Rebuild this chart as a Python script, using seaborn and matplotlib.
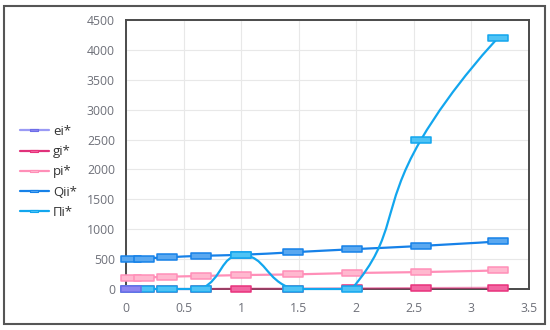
#!/usr/bin/env python3
# -*- coding: utf-8 -*-
"""Smoothed line chart with rectangle markers (ECharts look)."""

import numpy as np
import matplotlib
matplotlib.use('Agg')
import matplotlib.pyplot as plt
from matplotlib.path import Path
from matplotlib.patches import PathPatch, Rectangle
from matplotlib.lines import Line2D
import seaborn as sns

# data
x_vals = [0.04, 0.16, 0.36, 0.65, 1.0, 1.45, 1.96, 2.56, 3.23]
ei_x = [0.04]
ei = [0]
gi = [0, 0, 0, 0, 5, 5, 10, 15, 20]
pi = [178, 189, 205, 217, 233, 244, 267, 283, 311]
qii = [495, 510, 530, 555, 572, 615, 665, 720, 795]
PIi = [0, 0, 0, 0, 565, 0, 0, 2490, 4200]

x_ticks = [0, 0.5, 1, 1.5, 2, 2.5, 3, 3.5]
x_labels = ['0', '0.5', '1', '1.5', '2', '2.5', '3', '3.5']
y_ticks = [0, 500, 1000, 1500, 2000, 2500, 3000, 3500, 4000, 4500]

sns.set_theme(style='white')
plt.rcParams['font.family'] = ['Open Sans', 'DejaVu Sans']

W, H = 550, 330
fig = plt.figure(figsize=(W / 100, H / 100), dpi=100)
ax_l, ax_r, ax_t, ax_b = 126, 529, 20, 289
ax = fig.add_axes([ax_l / W, 1 - ax_b / H, (ax_r - ax_l) / W, (ax_b - ax_t) / H])
ax.set_xlim(0, 3.5)
ax.set_ylim(0, 4500)

kx = (ax_r - ax_l) / 3.5      # px per x unit
ky = (ax_b - ax_t) / 4500     # px per y unit


def smooth_path(xs, ys, smooth=0.5):
    """bezier path like echarts smooth line (bbox constraint)"""
    n = len(xs)
    xmin, xmax = min(xs), max(xs)
    ymin, ymax = min(ys), max(ys)
    cps = []
    for i in range(n):
        x, y = xs[i], ys[i]
        if i == 0 or i == n - 1:
            # end points: control point is the point itself
            cps.append(((x, y), (x, y)))
            continue
        px, py = xs[i - 1], ys[i - 1]
        nx, ny = xs[i + 1], ys[i + 1]
        vx, vy = (nx - px) * smooth, (ny - py) * smooth
        d0 = np.hypot((x - px) * kx, (y - py) * ky)
        d1 = np.hypot((nx - x) * kx, (ny - y) * ky)
        s = d0 + d1
        if s:
            d0, d1 = d0 / s, d1 / s
        c0 = (min(max(x - vx * d0, xmin), xmax), min(max(y - vy * d0, ymin), ymax))
        c1 = (min(max(x + vx * d1, xmin), xmax), min(max(y + vy * d1, ymin), ymax))
        cps.append((c0, c1))
    verts = [(xs[0], ys[0])]
    codes = [Path.MOVETO]
    for i in range(n - 1):
        verts += [cps[i][1], cps[i + 1][0], (xs[i + 1], ys[i + 1])]
        codes += [Path.CURVE4] * 3
    return Path(verts, codes)


rect = Path([(-1, -0.28), (1, -0.28), (1, 0.28), (-1, 0.28), (-1, -0.28)],
            [Path.MOVETO, Path.LINETO, Path.LINETO, Path.LINETO, Path.CLOSEPOLY])

# name, xs, ys, line colour, marker fill, marker edge, line alpha, zorder
series = [
    ('pi*', x_vals, pi, '#ff8fb8', '#ffb8cf', '#ff8fb8', 1.0, 3),
    ('Qii*', x_vals, qii, '#1681e8', '#5aa8f0', '#1681e8', 1.0, 4),
    ('gi*', x_vals, gi, '#e0317a', '#f266a2', '#e8327c', 0.55, 5),
    ('Πi*', x_vals, PIi, '#12a6ee', '#4fc3f5', '#12a6ee', 1.0, 6),
    ('ei*', ei_x, ei, '#9a9af5', '#8c86f0', '#6d6de8', 1.0, 7),
]

for name, xs, ys, lc, fc, ec, la, z in series:
    if len(xs) > 1:
        ax.add_patch(PathPatch(smooth_path(xs, ys), fill=False, edgecolor=lc,
                               lw=1.6, alpha=la, zorder=z, clip_on=False))
    sns.scatterplot(x=xs, y=ys, ax=ax, marker=rect, s=190, color=fc,
                    edgecolor=ec, linewidth=1.1, zorder=z + 0.5,
                    legend=False, clip_on=False)

# axes look
ax.set_xticks(x_ticks)
ax.set_xticklabels(x_labels)
ax.set_yticks(y_ticks)
ax.tick_params(axis='both', length=0, labelsize=8.8, labelcolor='#6e7079')
ax.tick_params(axis='x', pad=9)
ax.tick_params(axis='y', pad=8)
ax.grid(True, color='#e8e8e8', lw=0.8)
ax.set_axisbelow(True)
for sp in ax.spines.values():
    sp.set_color('#4a4a4a')
    sp.set_linewidth(1.4)
    sp.set_zorder(2.5)

# legend on the left
order = ['ei*', 'gi*', 'pi*', 'Qii*', 'Πi*']
info = {s[0]: s for s in series}
handles = []
for nm in order:
    _, _, _, lc, fc, ec, _, _ = info[nm]
    handles.append(Line2D([0], [0], color=lc, lw=1.6, marker=rect, markersize=6,
                          markerfacecolor=fc, markeredgecolor=ec,
                          markeredgewidth=0.8))
fig.legend(handles, order, loc='center left',
           bbox_to_anchor=(13 / W, 1 - 172 / H), frameon=False,
           fontsize=9.5, handlelength=2.2, handletextpad=0.35,
           labelspacing=0.55, borderpad=0, labelcolor='#333333')

# outer frame
fig.patches.append(Rectangle((4 / W, 6 / H), 541 / W, 318 / H,
                             transform=fig.transFigure, fill=False,
                             edgecolor='#555555', lw=1.5))

fig.savefig('out.png', dpi=100)
